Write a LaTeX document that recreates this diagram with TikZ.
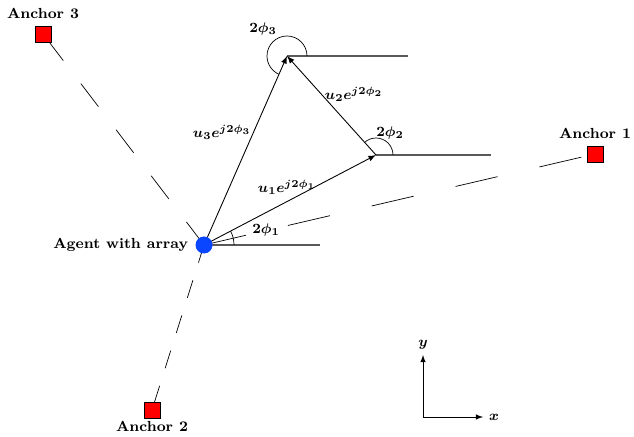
\documentclass[tikz,border=0pt]{standalone}
\usepackage{amsmath}
\usepackage{tikz}
\usetikzlibrary{positioning}
\usetikzlibrary{calc}
\usetikzlibrary{arrows}

\definecolor{agentblue}{RGB}{10,70,255}

\begin{document}
\begin{tikzpicture}[
    >=latex,
    every node/.style={font=\fontsize{8.3}{10}\selectfont\bfseries\boldmath},
    anchorbox/.style={draw, fill=red, minimum size=0.32cm, inner sep=0pt},
    agentdot/.style={circle, fill=agentblue, minimum size=0.34cm, inner sep=0pt},
    refline/.style={draw=black!65, thick},
    ranging/.style={dash pattern=on #1 off #1},
    vec/.style={->, semithin}
]
\tikzset{semithin/.style={line width=0.5pt}}
\useasboundingbox (0,0) rectangle (12.68,8.72);

% positions
\coordinate (agentpos) at (4.08,3.82);
\coordinate (p1) at (7.52,5.62);
\coordinate (p3) at (5.74,7.60);

% reference lines
\draw[refline] (agentpos) -- (6.40,3.82);
\draw[refline] (p1) -- (9.82,5.62);
\draw[refline] (p3) -- (8.16,7.60);

% ranging lines to the anchors
\coordinate (a1) at (11.90,5.64);
\coordinate (a2) at (3.04,0.52);
\coordinate (a3) at (0.86,8.04);
\draw[ranging=24.5pt] (agentpos) -- (a1);
\draw[ranging=16.5pt] (agentpos) -- (a3);
\draw[ranging=10.5pt] (agentpos) -- (a2);

% anchors
\node[anchorbox] (anchor1) at (a1) {};
\node[anchorbox] (anchor2) at (a2) {};
\node[anchorbox] (anchor3) at (a3) {};
\node[above=0.02cm of anchor1] (lab1) {Anchor 1};
\node[below=-0.06cm of anchor2] (lab2) {Anchor 2};
\node[above=0.02cm of anchor3] (lab3) {Anchor 3};

% vectors
\draw[vec] (agentpos) -- (p1);
\draw[vec] (p1) -- (p3);
\draw[vec] (agentpos) -- (p3);
\node (v1) at (5.74,4.98) {$u_1e^{j2\phi_1}$};
\node (v2) at (7.08,6.84) {$u_2e^{j2\phi_2}$};
\node (v3) at (4.44,6.08) {$u_3e^{j2\phi_3}$};

% angles
\draw ($(agentpos)+(0.6,0)$) arc[start angle=0, end angle=27.6, radius=0.6];
\draw ($(p1)+(0.34,0)$) arc[start angle=0, end angle=132, radius=0.34];
\draw ($(p3)+(0.4,0)$) arc[start angle=0, end angle=246, radius=0.4];
\node (ang1) at (5.32,4.12) {$2\phi_1$};
\node (ang2) at (7.80,6.06) {$2\phi_2$};
\node (ang3) at (5.26,8.14) {$2\phi_3$};

% agent
\node[agentdot] (agent) at (agentpos) {};
\node[left=0.02cm of agent] (agentlab) {Agent with array};

% axes
\coordinate (orig) at (8.46,0.38);
\coordinate (xend) at (9.66,0.38);
\coordinate (yend) at (8.46,1.62);
\draw[->] (orig) -- (xend) node[right=0cm] (xlab) {$x$};
\draw[->] (orig) -- (yend) node[above=0cm] (ylab) {$y$};
\end{tikzpicture}
\end{document}
